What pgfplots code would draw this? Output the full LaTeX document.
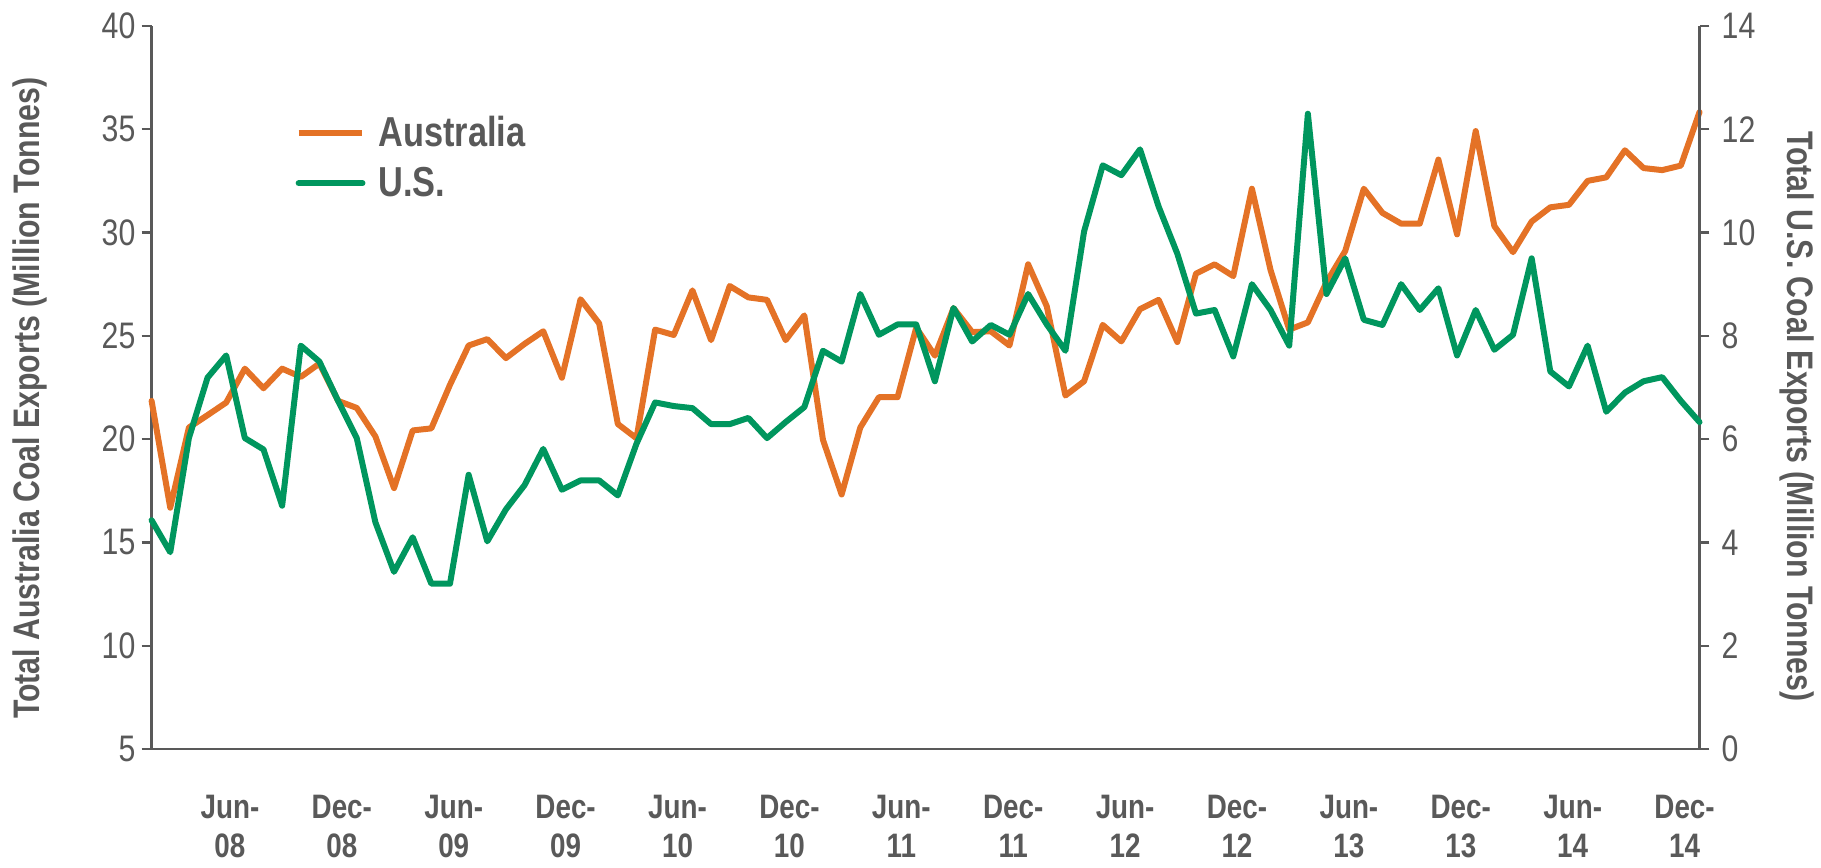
\documentclass[border=0pt]{standalone}
\usepackage{pgfplots}
\pgfplotsset{compat=1.18}
\usepackage{fontspec}
\setmainfont{Liberation Sans}
\newfontfamily\narrow[FakeStretch=0.82]{Liberation Sans}
\definecolor{aus}{RGB}{228,114,38}
\definecolor{us}{RGB}{0,150,94}
\definecolor{txt}{RGB}{89,89,89}

\pgfplotstableread{
x y
0 21.85
1 16.68
2 20.56
3 21.16
4 21.77
5 23.41
6 22.46
7 23.41
8 23.01
9 23.66
10 21.85
11 21.51
12 20.13
13 17.63
14 20.42
15 20.52
16 22.63
17 24.53
18 24.84
19 23.92
20 24.61
21 25.22
22 22.97
23 26.77
24 25.60
25 20.73
26 20.04
27 25.30
28 25.04
29 27.20
30 24.79
31 27.41
32 26.86
33 26.74
34 24.79
35 25.99
36 19.96
37 17.32
38 20.56
39 22.03
40 22.03
41 25.39
42 24.04
43 26.34
44 25.18
45 25.22
46 24.53
47 28.46
48 26.43
49 22.11
50 22.80
51 25.53
52 24.73
53 26.29
54 26.74
55 24.70
56 28.01
57 28.46
58 27.89
59 32.12
60 28.18
61 25.30
62 25.65
63 27.60
64 29.10
65 32.12
66 30.95
67 30.43
68 30.43
69 33.53
70 29.91
71 34.91
72 30.31
73 29.05
74 30.53
75 31.22
76 31.34
77 32.50
78 32.67
79 33.98
80 33.12
81 33.02
82 33.24
83 35.83
}\austable

\pgfplotstableread{
x y
0 4.43
1 3.81
2 6.02
3 7.19
4 7.62
5 6.02
6 5.80
7 4.71
8 7.81
9 7.50
10 6.74
11 6.02
12 4.39
13 3.43
14 4.10
15 3.20
16 3.20
17 5.31
18 4.02
19 4.64
20 5.11
21 5.81
22 5.02
23 5.20
24 5.20
25 4.91
26 5.91
27 6.71
28 6.64
29 6.60
30 6.29
31 6.29
32 6.41
33 6.02
34 6.33
35 6.62
36 7.71
37 7.50
38 8.81
39 8.02
40 8.22
41 8.22
42 7.12
43 8.54
44 7.89
45 8.21
46 8.02
47 8.81
48 8.22
49 7.71
50 10.02
51 11.30
52 11.11
53 11.61
54 10.50
55 9.59
56 8.43
57 8.50
58 7.60
59 9.00
60 8.50
61 7.81
62 12.30
63 8.81
64 9.50
65 8.31
66 8.21
67 9.00
68 8.50
69 8.92
70 7.62
71 8.50
72 7.73
73 8.02
74 9.50
75 7.31
76 7.02
77 7.81
78 6.53
79 6.90
80 7.12
81 7.20
82 6.74
83 6.33
}\ustable

\begin{document}
\begin{tikzpicture}
\pgfplotsset{
  base/.style={
    width=776pt, height=362.5pt, scale only axis,
    xmin=0, xmax=83,
    axis line style={txt, line width=1.2pt},
    tick style={txt, line width=1.2pt},
    major tick length=5pt,
    tick align=outside,
    ytick style={txt, line width=1.2pt},
    tick label style={font=\narrow\fontsize{18.5}{21}\selectfont, text=txt},
    label style={font=\narrow\bfseries\fontsize{18.5}{21}\selectfont, text=txt},
    /pgf/number format/assume math mode=true,
    clip=false,
  },
  series/.style={line width=3pt, line join=round, line cap=round},
}
\begin{axis}[base, name=ax,
  axis y line*=left, axis x line*=bottom,
  ymin=5, ymax=40, ytick={5,10,...,40},
  yticklabel style={xshift=0.4pt},
  xtick={4.2,10.2,16.2,22.2,28.2,34.2,40.2,46.2,52.2,58.2,64.2,70.2,76.2,82.2},
  xticklabels={Jun-\\08,Dec-\\08,Jun-\\09,Dec-\\09,Jun-\\10,Dec-\\10,Jun-\\11,Dec-\\11,Jun-\\12,Dec-\\12,Jun-\\13,Dec-\\13,Jun-\\14,Dec-\\14},
  xtick style={draw=none},
  xticklabel style={align=center, font=\narrow\bfseries\fontsize{17}{19.75}\selectfont, yshift=-14.6pt},
  ylabel={Total Australia Coal Exports (Million Tonnes)},
  ylabel style={at={(rel axis cs:-0.0786,0.485)}, anchor=center},
]
\addplot[series, aus] table[x=x,y=y] {\austable};
\end{axis}
\begin{axis}[base,
  axis y line*=right, axis x line=none,
  ymin=0, ymax=14, ytick={0,2,...,14},
  yticklabel style={xshift=2.6pt},
  ylabel={Total U.S. Coal Exports (Million Tonnes)},
  ylabel style={at={(rel axis cs:1.0631,0.46)}, anchor=center, rotate=180},
  legend style={at={(rel axis cs:0.0928,0.881)}, anchor=north west, draw=none, fill=none,
    inner sep=0pt, nodes={inner sep=2pt}, column sep=4.5pt, row sep=4.7pt,
    font=\narrow\bfseries\fontsize{21}{24}\selectfont, text=txt},
  legend cell align=left,
  legend image code/.code={\draw[#1, line width=3pt] (0pt,0pt) -- (32pt,0pt);},
]
\addlegendimage{aus, line width=3pt}
\addlegendentry{Australia}
\addplot[series, us] table[x=x,y=y] {\ustable};
\addlegendentry{U.S.}
\end{axis}
\path (ax.south west) ++(-76pt,-59.5pt) rectangle ++(910.5pt,435pt);
\end{tikzpicture}
\end{document}
